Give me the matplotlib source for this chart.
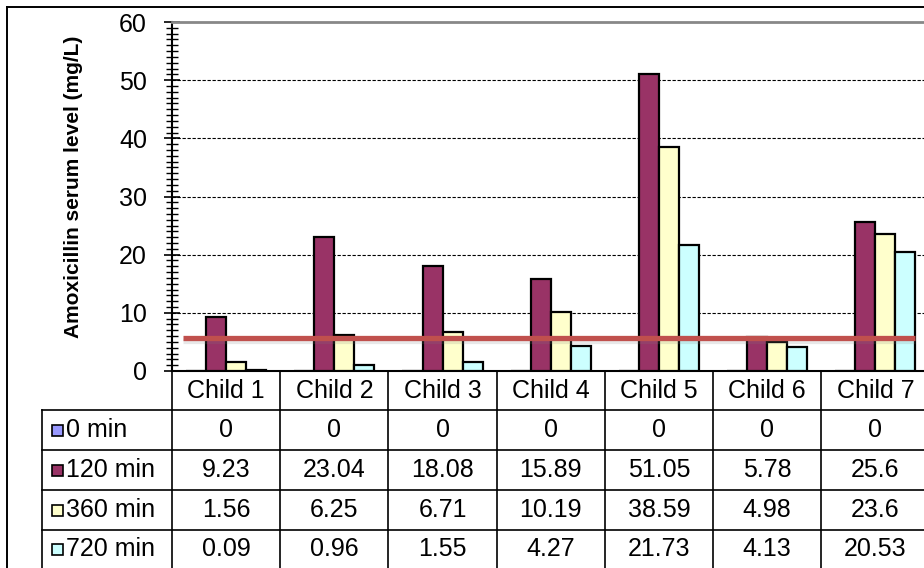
import matplotlib
matplotlib.use("Agg")
import matplotlib.pyplot as plt
import matplotlib.transforms as mtransforms
import matplotlib.patheffects as pe
from matplotlib.patches import Rectangle

plt.rcParams['font.family'] = ['Liberation Sans', 'DejaVu Sans']

# ---- data -------------------------------------------------------------
children = ["Child 1", "Child 2", "Child 3", "Child 4", "Child 5", "Child 6", "Child 7"]
series_names = ["0 min", "120 min", "360 min", "720 min"]
min0 = [0, 0, 0, 0, 0, 0, 0]
min120 = [9.23, 23.04, 18.08, 15.89, 51.05, 5.78, 25.6]
min360 = [1.56, 6.25, 6.71, 10.19, 38.59, 4.98, 23.6]
min720 = [0.09, 0.96, 1.55, 4.27, 21.73, 4.13, 20.53]
series_values = [min0, min120, min360, min720]
series_colors = ["#9999FF", "#993366", "#FFFFCC", "#CCFFFF"]
THRESHOLD = 5.7
y_label = "Amoxicillin serum level (mg/L)"

W, H = 924, 568
fig = plt.figure(figsize=(W / 100, H / 100), dpi=100)

# pixel (top-left origin) -> figure transform
px = mtransforms.Affine2D().scale(1 / W, -1 / H).translate(0, 1) + fig.transFigure

# plot area: left at 172 px, top at 22 px, bottom at 371 px; extends past right edge
x_left, x_right, y_top, y_bot = 172, 929.5, 22, 371
ax = fig.add_axes([x_left / W, 1 - y_bot / H, (x_right - x_left) / W, (y_bot - y_top) / H])

n = len(children)
xs = list(range(n))
bw = 0.185
for k, (vals, col) in enumerate(zip(series_values, series_colors)):
    offs = (k - 1.5) * bw
    ax.bar([x + offs for x in xs], vals, width=bw, color=col,
           edgecolor="black", linewidth=1.6, zorder=3)

ax.set_xlim(-0.5, n - 0.5)
ax.set_ylim(0, 60)
ax.set_yticks(range(0, 61, 10))
ax.set_yticks(range(0, 61, 1), minor=True)
ax.set_xticks([])
ax.tick_params(axis='y', which='major', direction='inout', length=12, width=1.2,
               labelsize=18, pad=12, colors='black')
ax.tick_params(axis='y', which='minor', direction='inout', length=9, width=1.0)
for g in range(10, 60, 10):
    ax.axhline(g, color='black', linewidth=0.8, linestyle=(0, (3, 1.5)), zorder=1)

ax.spines['left'].set_linewidth(1.5)
ax.spines['bottom'].set_linewidth(1.5)
ax.spines['top'].set_color('#888888')
ax.spines['top'].set_linewidth(2)
ax.spines['right'].set_visible(False)

# threshold line with a soft shadow
ax.hlines(THRESHOLD, -0.4, 6.37, color='#C0504D', linewidth=3.8, zorder=5,
          path_effects=[pe.SimpleLineShadow(offset=(0, -2.5), alpha=0.18, shadow_color='gray'),
                        pe.Normal()])

fig.text(74 / W, 1 - 186.5 / H, y_label, rotation=90, ha='center', va='center',
         fontsize=15, fontweight='bold')

# ---- data table beneath the axis --------------------------------------
tr = mtransforms.blended_transform_factory(ax.transData, px)
row_lines = [410, 450, 490, 530]
row_centers = [430, 470, 510, 549]
bottom = 575
lk = dict(color='black', linewidth=1.2, clip_on=False)

# vertical column dividers at category boundaries
for b in range(n + 1):
    fig.add_artist(plt.Line2D([b - 0.5, b - 0.5], [y_bot, bottom], transform=tr, **lk))
# horizontal row lines spanning label column and data columns
for y in row_lines:
    fig.add_artist(plt.Line2D([42, 935], [y, y], transform=px, **lk))
fig.add_artist(plt.Line2D([42, 42], [row_lines[0], bottom], transform=px, **lk))

fs = 18
for i, c in enumerate(children):
    fig.text(i, 391, c, transform=tr, ha='center', va='center', fontsize=fs)
for r, (name, vals, col) in enumerate(zip(series_names, series_values, series_colors)):
    yc = row_centers[r]
    fig.add_artist(Rectangle((52, yc - 5.5), 11, 11, transform=px, facecolor=col,
                             edgecolor='black', linewidth=1.2))
    fig.text(66, yc, name, transform=px, ha='left', va='center', fontsize=fs)
    for i, v in enumerate(vals):
        fig.text(i, yc, f"{v:g}", transform=tr, ha='center', va='center', fontsize=fs)

# outer chart border (top and left visible)
fig.add_artist(plt.Line2D([7, 7], [7, H + 5], transform=px, color='black', linewidth=1.4))
fig.add_artist(plt.Line2D([7, W + 5], [7, 7], transform=px, color='black', linewidth=1.4))

fig.savefig("out.png", dpi=100)
